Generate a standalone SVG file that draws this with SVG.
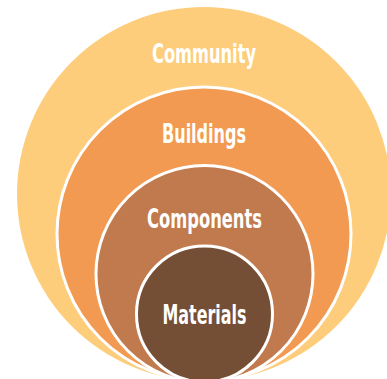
<svg xmlns="http://www.w3.org/2000/svg" width="387" height="379" viewBox="0 0 387 379">
<style>
.ring{stroke:#fff;stroke-width:3}
.lbl{font-family:"Liberation Sans Narrow","DejaVu Sans Condensed","Liberation Sans",sans-serif;font-stretch:condensed;font-weight:bold;font-size:26px;fill:#fff;text-anchor:middle}
</style>
<rect width="387" height="379" fill="#fff"/>
<g id="community">
<circle cx="204" cy="194" r="187" fill="#FDCD7C"/>
<text class="lbl" x="204" y="63" textLength="104" lengthAdjust="spacingAndGlyphs">Community</text>
</g>
<g id="buildings">
<circle class="ring" cx="204" cy="234" r="147" fill="#F29A52"/>
<text class="lbl" x="204" y="143" textLength="84" lengthAdjust="spacingAndGlyphs">Buildings</text>
</g>
<g id="components">
<circle class="ring" cx="204.5" cy="274" r="108.5" fill="#C17A4D"/>
<text class="lbl" x="204.5" y="228" textLength="115" lengthAdjust="spacingAndGlyphs">Components</text>
</g>
<g id="materials">
<circle class="ring" cx="204.5" cy="314" r="68" fill="#744F35"/>
<text class="lbl" x="204.5" y="324" textLength="84" lengthAdjust="spacingAndGlyphs">Materials</text>
</g>
<g id="connectors"/>
</svg>
